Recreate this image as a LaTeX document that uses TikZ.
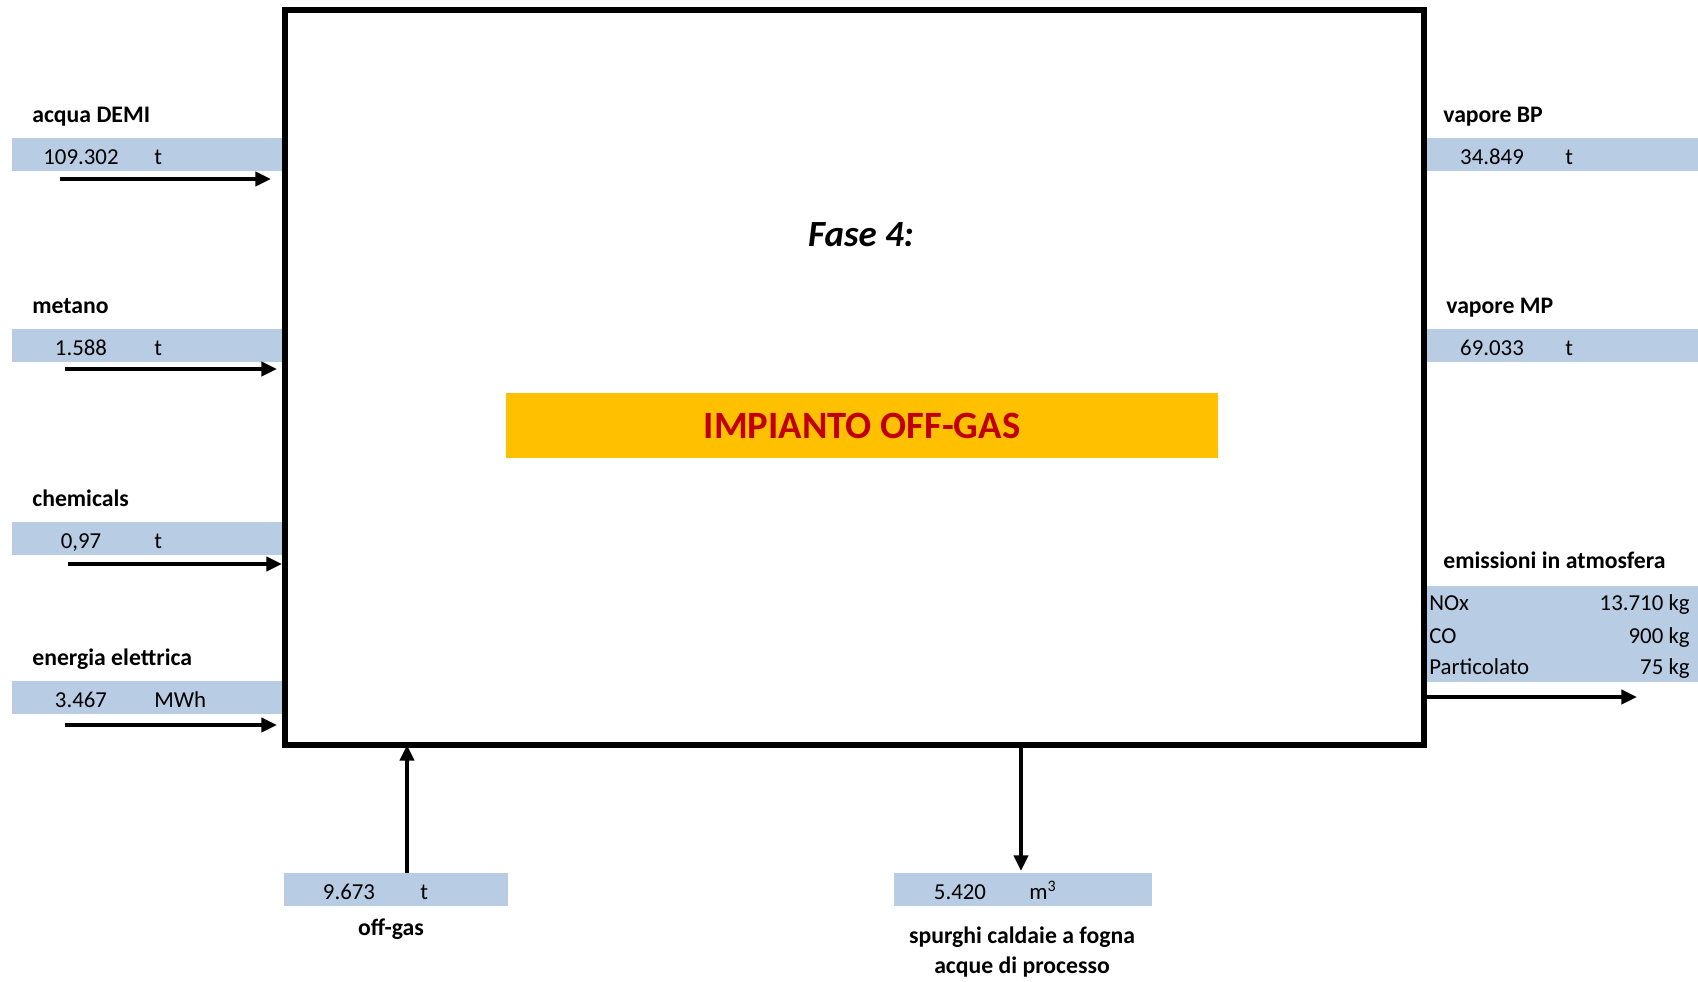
\documentclass[tikz,border=0pt]{standalone}
\usepackage{fontspec}
\setmainfont{Carlito}
\usetikzlibrary{arrows.meta,positioning,calc}

\definecolor{bandblue}{HTML}{B8CCE4}
\definecolor{impgold}{HTML}{FFC000}
\definecolor{impred}{HTML}{C00000}

\tikzset{
        lab/.style={font=\fontsize{13.5}{17}\selectfont\bfseries, inner sep=0},
        val/.style={font=\fontsize{13}{15}\selectfont, inner sep=0},
        band/.style={fill=bandblue, inner sep=0, minimum height=0.66cm, anchor=west},
        flow/.style={line width=2.3pt, -{Triangle[length=8.9pt,width=7.9pt]}},
}

\begin{document}
\begin{tikzpicture}[x=0.02cm,y=-0.02cm]
        \useasboundingbox (0,0) rectangle (1698,981);

        \foreach \n/\lab/\v/\u/\yb/\ya/\xa/\xb in {acqua/acqua DEMI/109.302/t/154/179/60/271,
                        metano/metano/1.588/t/345.5/369/65/277,
                        chem/chemicals/{0,97}/t/538/564/68/282,
                        energia/energia elettrica/3.467/MWh/697/725/65/277}{
                \node[band, minimum width=5.42cm] (b\n) at (12,\yb) {};
                \node[lab, anchor=base west] (l\n) at (32,\yb-32) {\lab};
                \node[val, anchor=base] (v\n) at (81,\yb+10) {\v};
                \node[val, anchor=base west] (u\n) at (154,\yb+10) {\u};
        }

        \foreach \n/\lab/\v/\yb/\xl in {bp/vapore BP/34.849/154/1443, mp/vapore MP/69.033/345.5/1446}{
                \node[band, minimum width=5.42cm] (b\n) at (1427,\yb) {};
                \node[lab, anchor=base west] (l\n) at (\xl,\yb-32) {\lab};
                \node[val, anchor=base] (v\n) at (1492,\yb+10) {\v};
                \node[val, anchor=base west] (u\n) at (1565,\yb+10) {t};
        }

        % emissioni
        \node[band, minimum width=5.42cm, minimum height=1.92cm] (bem) at (1427,634) {};
        \node[lab, anchor=base west] (lem) at (1443,568) {emissioni in atmosfera};
        \foreach \n/\k/\v/\y in {nox/NOx/13.710/610, co/CO/900/643, pt/Particolato/75/674}{
                \node[val, anchor=base west] (k\n) at (1429,\y) {\k};
                \node[val, anchor=base east] (v\n) at (1690,\y) {\v\ kg};
        }

        % uscite in basso
        \node[band, minimum width=4.48cm] (bog) at (284,889.5) {};
        \node[val, anchor=base] (vog) at (349,899.5) {9.673};
        \node[val, anchor=base west] (uog) at (420,899.5) {t};
        \node[lab] (log) at (391,929) {off-gas};

        \node[band, minimum width=5.16cm] (bsp) at (894,889.5) {};
        \node[val, anchor=base] (vsp) at (960,899.5) {5.420};
        \node[val, anchor=base west] (usp) at (1029,899.5) {m\textsuperscript{3}};
        \node[lab, align=center] (lsp) at (1022,952) {spurghi caldaie a fogna\\acque di processo};

        \node[draw, line width=3.2pt, inner sep=0, minimum width=22.78cm, minimum height=14.7cm] (fase) at (854.5,377.5) {};
        \node[font=\fontsize{21}{24}\selectfont\bfseries\itshape] (titolo) at (861,235) {Fase 4:};
        \node[fill=impgold, text=impred, font=\fontsize{22}{26}\selectfont\bfseries,
                minimum width=14.24cm, minimum height=1.3cm] (imp) at (862,425.5) {IMPIANTO OFF-GAS};

        \foreach \n/\ya/\xa/\xb in {acqua/179/60/271, metano/369/65/277, chem/564/68/282, energia/725/65/277}{
                \coordinate (t\n) at (\xa,\ya);
                \coordinate (h\n) at (\xb,\ya);
                \draw[flow] (t\n) -- (h\n);
        }

        \coordinate (emtip) at (1637,697);
        \draw[flow] (emtip -| fase.east) -- (emtip);

        \coordinate (ogin) at (407,873);
        \draw[flow, shorten >=-1.6pt] (ogin) -- (ogin |- fase.south);

        \coordinate (spout) at (1021,871);
        \draw[flow] (spout |- fase.south) -- (spout);
\end{tikzpicture}
\end{document}
